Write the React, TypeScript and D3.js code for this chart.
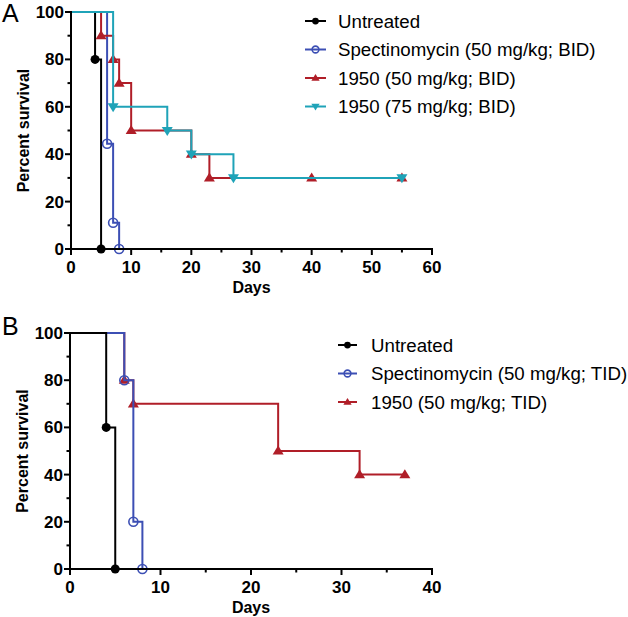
import React from "react";
import * as d3 from "d3";

// ---- Data ----
// Panel A
const aUntreatedDays = [0, 4, 5];
const aUntreatedSurv = [100, 80, 0];
const aSpectDays = [0, 6, 7, 8];
const aSpectSurv = [100, 44.4, 11.1, 0];
const a1950_50Days = [0, 5, 7, 8, 10, 20, 23, 40, 55];
const a1950_50Surv = [100, 90, 80, 70, 50, 40, 30, 30, 30];
const a1950_75Days = [0, 7, 16, 20, 27, 55];
const a1950_75Surv = [100, 60, 50, 40, 30, 30];
const aLabels = ["Untreated", "Spectinomycin (50 mg/kg; BID)", "1950 (50 mg/kg; BID)", "1950 (75 mg/kg; BID)"];
const aXTicks = [0, 10, 20, 30, 40, 50, 60];

// Panel B
const bUntreatedDays = [0, 4, 5];
const bUntreatedSurv = [100, 60, 0];
const bSpectDays = [0, 6, 7, 8];
const bSpectSurv = [100, 80, 20, 0];
const b1950Days = [0, 6, 7, 23, 32, 37];
const b1950Surv = [100, 80, 70, 50, 40, 40];
const bLabels = ["Untreated", "Spectinomycin (50 mg/kg; TID)", "1950 (50 mg/kg; TID)"];
const bXTicks = [0, 10, 20, 30, 40];

const yTicks = [0, 20, 40, 60, 80, 100];

const BLACK = "#000000";
const BLUE = "#3c4fb4";
const RED = "#b01e28";
const CYAN = "#1fa3b8";
const FONT = "Arial, 'Liberation Sans', Helvetica, sans-serif";

type MarkerKind = "dot" | "ring" | "up" | "down";

function Marker({ kind, x, y, color, s = 1 }: { kind: MarkerKind; x: number; y: number; color: string; s?: number }) {
  if (kind === "dot") return <circle cx={x} cy={y} r={4.5 * s} fill={color} />;
  if (kind === "ring") return <circle cx={x} cy={y} r={4.5 * s} fill="none" stroke={color} strokeWidth={1.6} />;
  const h = 9 * s;
  const w = 5.5 * s;
  if (kind === "up")
    return <path d={`M${x},${y - h * 0.6}L${x + w},${y + h * 0.4}L${x - w},${y + h * 0.4}Z`} fill={color} />;
  return <path d={`M${x},${y + h * 0.6}L${x + w},${y - h * 0.4}L${x - w},${y - h * 0.4}Z`} fill={color} />;
}

interface Series {
  days: number[];
  surv: number[];
  color: string;
  marker: MarkerKind;
  label: string;
}

interface PanelProps {
  letter: string;
  top: number;
  series: Series[];
  legendSeries: Series[];
  xMax: number;
  xTicks: number[];
  x0: number;
  x1: number;
  y0: number;
  y1: number;
  legendX: number;
  legendY: number;
  legendDy: number;
  legendLine: number;
  legendTextDx: number;
}

function Panel(p: PanelProps) {
  const { letter, top, series, legendSeries, xMax, xTicks, x0, x1, y0, y1 } = p;
  const x = d3.scaleLinear().domain([0, xMax]).range([x0, x1]);
  const y = d3.scaleLinear().domain([0, 100]).range([y1, y0]);
  const line = d3
    .line<[number, number]>()
    .x((d) => x(d[0]))
    .y((d) => y(d[1]))
    .curve(d3.curveStepAfter);
  const minorX = d3.range(5, xMax, 10);
  const minorY = d3.range(10, 100, 20);
  return (
    <g>
      <text x={2} y={top + 10} fontFamily={FONT} fontSize={25} fill="#000">
        {letter}
      </text>
      {series.map((s, i) => {
        const pts = s.days.map((d, j) => [d, s.surv[j]] as [number, number]);
        return (
          <g key={i}>
            <path d={line(pts) || ""} fill="none" stroke={s.color} strokeWidth={2} />
            {pts.slice(1).map((pt, j) => (
              <Marker key={j} kind={s.marker} x={x(pt[0])} y={y(pt[1])} color={s.color} />
            ))}
          </g>
        );
      })}
      <line x1={x0} x2={x0} y1={y0 - 1} y2={y1 + 1} stroke="#000" strokeWidth={2} />
      <line x1={x0 - 1} x2={x1 + 1} y1={y1} y2={y1} stroke="#000" strokeWidth={2} />
      {yTicks.map((t) => (
        <g key={t}>
          <line x1={x0 - 6} x2={x0} y1={y(t)} y2={y(t)} stroke="#000" strokeWidth={2} />
          <text x={x0 - 7} y={y(t) + 6} textAnchor="end" fontFamily={FONT} fontWeight="bold" fontSize={17}>
            {t}
          </text>
        </g>
      ))}
      {minorY.map((t) => (
        <line key={t} x1={x0 - 3.5} x2={x0} y1={y(t)} y2={y(t)} stroke="#000" strokeWidth={2} />
      ))}
      {xTicks.map((t) => (
        <g key={t}>
          <line x1={x(t)} x2={x(t)} y1={y1} y2={y1 + 6} stroke="#000" strokeWidth={2} />
          <text x={x(t)} y={y1 + 24} textAnchor="middle" fontFamily={FONT} fontWeight="bold" fontSize={17}>
            {t}
          </text>
        </g>
      ))}
      {minorX.map((t) => (
        <line key={t} x1={x(t)} x2={x(t)} y1={y1} y2={y1 + 3.5} stroke="#000" strokeWidth={2} />
      ))}
      <text x={(x0 + x1) / 2} y={y1 + 44} textAnchor="middle" fontFamily={FONT} fontWeight="bold" fontSize={16}>
        Days
      </text>
      <text
        transform={`translate(${x0 - 42},${(y0 + y1) / 2}) rotate(-90)`}
        textAnchor="middle"
        fontFamily={FONT}
        fontWeight="bold"
        fontSize={16}
      >
        Percent survival
      </text>
      {legendSeries.map((s, i) => {
        const ly = p.legendY + i * p.legendDy;
        return (
          <g key={i}>
            <line x1={p.legendX} x2={p.legendX + p.legendLine} y1={ly} y2={ly} stroke={s.color} strokeWidth={2} />
            <Marker kind={s.marker} x={p.legendX + p.legendLine / 2} y={ly} color={s.color} s={0.75} />
            <text x={p.legendX + p.legendTextDx} y={ly + 6.5} fontFamily={FONT} fontSize={18.7} fill="#000">
              {s.label}
            </text>
          </g>
        );
      })}
    </g>
  );
}

export default function App() {
  const seriesA: Series[] = [
    { days: aUntreatedDays, surv: aUntreatedSurv, color: BLACK, marker: "dot", label: aLabels[0] },
    { days: aSpectDays, surv: aSpectSurv, color: BLUE, marker: "ring", label: aLabels[1] },
    { days: a1950_50Days, surv: a1950_50Surv, color: RED, marker: "up", label: aLabels[2] },
    { days: a1950_75Days, surv: a1950_75Surv, color: CYAN, marker: "down", label: aLabels[3] },
  ];
  const bUntreated: Series = { days: bUntreatedDays, surv: bUntreatedSurv, color: BLACK, marker: "dot", label: bLabels[0] };
  const bSpect: Series = { days: bSpectDays, surv: bSpectSurv, color: BLUE, marker: "ring", label: bLabels[1] };
  const b1950: Series = { days: b1950Days, surv: b1950Surv, color: RED, marker: "up", label: bLabels[2] };
  return (
    <svg width={628} height={617} style={{ position: "absolute", left: 0, top: 0 }} viewBox="0 0 628 617">
      <rect width={628} height={617} fill="#fff" />
      <Panel
        letter="A"
        top={12}
        series={seriesA}
        legendSeries={seriesA}
        xMax={60}
        xTicks={aXTicks}
        x0={71}
        x1={432}
        y0={12}
        y1={249}
        legendX={305}
        legendY={21}
        legendDy={28.5}
        legendLine={21}
        legendTextDx={33}
      />
      <Panel
        letter="B"
        top={325}
        series={[b1950, bSpect, bUntreated]}
        legendSeries={[bUntreated, bSpect, b1950]}
        xMax={40}
        xTicks={bXTicks}
        x0={70}
        x1={432}
        y0={333}
        y1={569}
        legendX={338}
        legendY={345}
        legendDy={28.5}
        legendLine={19}
        legendTextDx={33}
      />
    </svg>
  );
}
